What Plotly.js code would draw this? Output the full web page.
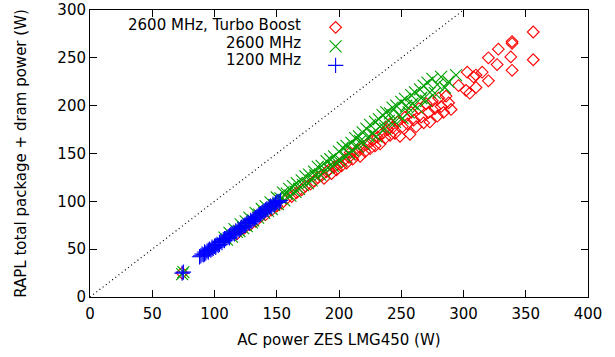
<!DOCTYPE html>
<html>
<head>
<meta charset="utf-8">
<script src="https://cdn.plot.ly/plotly-3.0.1.min.js"></script>
<style>
html,body{margin:0;padding:0;background:#fff;}
#chart{width:615px;height:357px;}
</style>
</head>
<body>
<div id="chart"></div>
<script>
// Series names
const seriesNames = ["2600 MHz, Turbo Boost", "2600 MHz", "1200 MHz"];

// 2600 MHz, Turbo Boost (red diamonds)
const turboX = [74,118,124,129,133,137,141,146,150,154,158,162,166,170,173,177,180,183,186,188,190,192,194,196,198,200,202,204,206,208,209,211,213,215,217,219,221,223,225,227,229,231,233,235,237,239,241,241,243,245,247,249,251,253,255,257,258,260,262,264,266,268,270,272,273,275,277,279,280,282,284,286,288,290,296,302,303,305,308,310,310,315,320,320,327,328,338,339,339,339,356,356];
const turboY = [25,66,72,76,79,84,86,91,95,98,103,105,109,112,116,118,121,125,127,124,131,133,129,136,133,139,137,143,140,146,151,144,149,154,147,157,152,160,155,164,158,167,160,171,166,175,169,181,177,171,183,168,178,188,181,170,193,185,178,197,188,182,202,193,183,205,197,189,208,199,193,210,203,196,221,216,235,213,230,232,219,235,226,250,243,259,251,237,265,267,248,277];

// 2600 MHz (green crosses)
const midX = [74,75,108,110,112,114,116,118,120,121,123,125,126,128,130,131,133,135,136,138,140,141,143,145,146,148,150,151,153,155,156,158,160,161,163,165,166,168,170,171,173,175,176,178,180,181,183,185,186,188,190,191,193,195,196,198,200,201,203,205,206,208,210,211,213,215,216,217,219,220,222,224,225,227,229,230,232,233,235,237,238,240,241,243,245,246,248,250,251,253,254,256,258,259,261,263,265,266,268,270,271,273,275,277,279,282,285,288,294];
const midY = [24,26,62,60,67,63,71,68,69,76,72,79,74,83,78,80,88,83,86,92,88,95,90,99,92,96,104,97,103,109,101,108,113,106,116,110,119,113,122,117,126,119,128,122,131,127,136,128,137,131,142,135,144,137,147,141,152,143,156,147,158,150,161,153,166,157,168,163,172,160,176,168,180,171,183,168,186,178,190,176,193,184,192,198,183,200,190,204,187,207,200,193,211,202,214,198,217,208,221,205,224,214,228,213,222,230,219,225,232];

// 1200 MHz (blue plus)
const lowX = [74,75,88,89,90,91,92,92,93,94,95,95,96,97,98,98,99,100,101,101,102,103,104,104,105,106,107,108,108,109,110,111,112,112,113,114,115,116,117,118,119,120,121,122,123,124,125,126,127,128,129,130,131,132,133,134,135,136,137,138,139,140,141,142,143,144,145,146,147,148,149,150,151,152,153];
const lowY = [25,26,42,43,45,44,47,45,46,48,49,47,50,49,52,50,51,53,54,52,55,54,57,55,58,57,60,59,61,61,62,63,64,62,65,66,67,66,69,68,71,70,72,73,74,75,75,77,78,77,80,79,81,82,83,84,85,86,87,88,89,90,91,92,92,94,95,94,97,96,98,99,100,99,101];

// Reference diagonal y = x
const diagX = [0, 300];
const diagY = [0, 300];

// Axis ticks
const xTicks = [0,50,100,150,200,250,300,350,400];
const yTicks = [0,50,100,150,200,250,300];

const font = {family: "DejaVu Sans, sans-serif", size: 15, color: "#000"};

const traces = [
  {x: diagX, y: diagY, mode: "lines", line: {color: "#000", width: 1.2, dash: "1px,3px"}, showlegend: false, hoverinfo: "skip"},
  {x: turboX, y: turboY, mode: "markers", name: " ", marker: {symbol: "diamond-open", size: 9, color: "#ff0000", line: {width: 1.1}}},
  {x: midX, y: midY, mode: "markers", name: " ", marker: {symbol: "x-thin-open", size: 12, color: "#00a000", line: {width: 1.1}}},
  {x: lowX, y: lowY, mode: "markers", name: " ", marker: {symbol: "cross-thin-open", size: 11, color: "#0000ff", line: {width: 1.1}}}
];

const legendTextY = [0.948, 0.886, 0.826];
const annotations = seriesNames.map((s, i) => ({
  xref: "paper", yref: "paper", x: 0.428, y: legendTextY[i], xanchor: "right", yanchor: "middle",
  text: s, showarrow: false, font: font
}));

const layout = {
  width: 615, height: 357,
  margin: {l: 90, r: 27, t: 10, b: 60},
  paper_bgcolor: "#fff", plot_bgcolor: "#fff",
  font: font,
  showlegend: true,
  legend: {x: 0.453, y: 0.99, xanchor: "left", yanchor: "top", bgcolor: "rgba(0,0,0,0)", font: {family: font.family, size: 10}, tracegroupgap: 0, itemwidth: 30},
  annotations: annotations,
  xaxis: {
    range: [0, 400], tickvals: xTicks, ticks: "inside", ticklen: 7, tickcolor: "#000", tickwidth: 1,
    showline: true, linecolor: "#000", linewidth: 1, mirror: "ticks", showgrid: false, zeroline: false,
    ticklabelstandoff: 3,
    title: {text: "AC power ZES LMG450 (W)", font: font, standoff: 12}, tickfont: font
  },
  yaxis: {
    range: [0, 300], tickvals: yTicks, ticks: "inside", ticklen: 7, tickcolor: "#000", tickwidth: 1,
    showline: true, linecolor: "#000", linewidth: 1, mirror: "ticks", showgrid: false, zeroline: false,
    title: {text: "RAPL total package + dram power (W)", font: font, standoff: 27}, tickfont: font
  }
};

Plotly.newPlot("chart", traces, layout, {displayModeBar: false, staticPlot: true});
</script>
</body>
</html>
